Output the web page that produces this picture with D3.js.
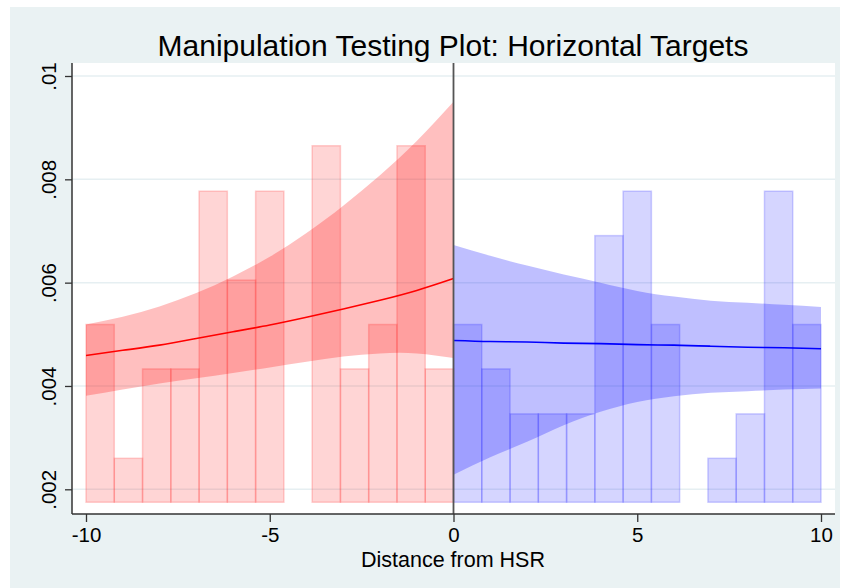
<!DOCTYPE html>
<html>
<head>
<meta charset="utf-8">
<script src="https://cdn.jsdelivr.net/npm/d3@7"></script>
<style>
  html, body { margin: 0; padding: 0; background: #ffffff; }
  svg { display: block; }
  text { font-family: "Liberation Sans", Arial, sans-serif; fill: #000; }
</style>
</head>
<body>
<svg id="chart" width="844" height="588"></svg>
<script>
// ---------- DATA ----------
const title = "Manipulation Testing Plot: Horizontal Targets";
const xTitle = "Distance from HSR";
const xTicks = [-10, -5, 0, 5, 10];
const yTicks = [0.002, 0.004, 0.006, 0.008, 0.01];
const yTickLabels = [".002", ".004", ".006", ".008", ".01"];

const binWidth = 10 / 13;
const barBase = 0.00175;
// histogram densities, left of cutoff (bins starting at -10)
const leftBars = [0.00519, 0.00260, 0.00433, 0.00433, 0.00777, 0.00605, 0.00777, null, 0.00865, 0.00433, 0.00519, 0.00865, 0.00433];
// histogram densities, right of cutoff (bins starting at 0)
const rightBars = [0.00519, 0.00433, 0.00346, 0.00346, 0.00346, 0.00691, 0.00777, 0.00519, null, 0.00260, 0.00346, 0.00777, 0.00519];

const leftX = [-10, -9, -8, -7, -6, -5, -4, -3, -2, -1, 0];
const leftFit = [0.00459, 0.00469, 0.00479, 0.00492, 0.00505, 0.00518, 0.00533, 0.00549, 0.00566, 0.00585, 0.00608];
const leftUpper = [0.00519, 0.00534, 0.00554, 0.00580, 0.00612, 0.00650, 0.00696, 0.00749, 0.00808, 0.00874, 0.00950];
const leftLower = [0.00381, 0.00393, 0.00405, 0.00415, 0.00425, 0.00436, 0.00447, 0.00457, 0.00463, 0.00463, 0.00454];

const rightX = [0, 1, 2, 3, 4, 5, 6, 7, 8, 9, 10];
const rightFit = [0.00488, 0.00486, 0.00485, 0.00483, 0.00482, 0.00480, 0.00479, 0.00477, 0.00475, 0.00474, 0.00472];
const rightUpper = [0.00673, 0.00652, 0.00633, 0.00616, 0.00600, 0.00584, 0.00573, 0.00565, 0.00561, 0.00557, 0.00553];
const rightLower = [0.00228, 0.00262, 0.00292, 0.00324, 0.00350, 0.00369, 0.00380, 0.00387, 0.00390, 0.00393, 0.00395];

// ---------- LAYOUT ----------
const svg = d3.select("#chart");
const plot = { left: 72, right: 835, top: 63, bottom: 514 };

svg.append("rect").attr("x", 10).attr("y", 7).attr("width", 830).attr("height", 581)
  .attr("fill", "#eaf2f3");
svg.append("rect").attr("x", plot.left).attr("y", plot.top)
  .attr("width", plot.right - plot.left).attr("height", plot.bottom - plot.top)
  .attr("fill", "#ffffff");

const x = d3.scaleLinear().domain([-10, 10]).range([86, 821]);
const y = d3.scaleLinear().domain([0.002, 0.01]).range([489.3, 76]);

// gridlines
svg.append("g").selectAll("line").data(yTicks).join("line")
  .attr("x1", plot.left).attr("x2", plot.right)
  .attr("y1", d => y(d)).attr("y2", d => y(d))
  .attr("stroke", "#e6eff2").attr("stroke-width", 1.5);

// bars
function drawBars(vals, start, fill, stroke) {
  const data = vals.map((v, i) => ({ x0: start + i * binWidth, x1: start + (i + 1) * binWidth, v }))
    .filter(d => d.v !== null);
  svg.append("g").selectAll("rect").data(data).join("rect")
    .attr("x", d => x(d.x0)).attr("width", d => x(d.x1) - x(d.x0))
    .attr("y", d => y(d.v)).attr("height", d => y(barBase) - y(d.v))
    .attr("fill", fill).attr("stroke", stroke).attr("stroke-width", 1.5);
}
drawBars(leftBars, -10, "rgba(255,0,0,0.165)", "rgba(255,60,60,0.24)");
drawBars(rightBars, 0, "rgba(0,0,255,0.165)", "rgba(60,60,255,0.24)");

// bands
function drawBand(xs, lo, hi, fill) {
  const pts = xs.map((d, i) => ({ x: d, lo: lo[i], hi: hi[i] }));
  const area = d3.area().x(d => x(d.x)).y0(d => y(d.lo)).y1(d => y(d.hi)).curve(d3.curveNatural);
  svg.append("path").datum(pts).attr("d", area).attr("fill", fill);
}
drawBand(leftX, leftLower, leftUpper, "rgba(255,0,0,0.25)");
drawBand(rightX, rightLower, rightUpper, "rgba(0,0,255,0.25)");

// fitted lines
function drawLine(xs, ys, color) {
  const pts = xs.map((d, i) => ({ x: d, y: ys[i] }));
  const line = d3.line().x(d => x(d.x)).y(d => y(d.y)).curve(d3.curveNatural);
  svg.append("path").datum(pts).attr("d", line).attr("fill", "none")
    .attr("stroke", color).attr("stroke-width", 1.6);
}
drawLine(leftX, leftFit, "#ff0000");
drawLine(rightX, rightFit, "#0000ff");

// cutoff line
svg.append("line").attr("x1", x(0)).attr("x2", x(0)).attr("y1", plot.top).attr("y2", plot.bottom)
  .attr("stroke", "#555555").attr("stroke-width", 1.8);

// axes
const xAxis = svg.append("g").attr("transform", `translate(0,${plot.bottom})`)
  .call(d3.axisBottom(x).tickValues(xTicks).tickSize(8).tickPadding(5).tickFormat(d3.format("d")));
xAxis.select(".domain").attr("d", `M${plot.left},0H${plot.right}`).attr("stroke", "#333").attr("stroke-width", 1.5);
xAxis.selectAll(".tick line").attr("stroke", "#333").attr("stroke-width", 1.3);
xAxis.selectAll(".tick text").attr("font-size", 20.5).attr("font-family", "Liberation Sans, Arial, sans-serif")
  .attr("fill", "#000").text(d => d < 0 ? "-" + Math.abs(d) : d);

const yAxis = svg.append("g").attr("transform", `translate(${plot.left},0)`)
  .call(d3.axisLeft(y).tickValues(yTicks).tickSize(7).tickFormat((d, i) => yTickLabels[i]));
yAxis.select(".domain").attr("d", `M0,${plot.top}V${plot.bottom}`).attr("stroke", "#333").attr("stroke-width", 1.5);
yAxis.selectAll(".tick line").attr("stroke", "#333").attr("stroke-width", 1.3);
yAxis.selectAll(".tick text")
  .attr("font-size", 20.5).attr("font-family", "Liberation Sans, Arial, sans-serif").attr("fill", "#000")
  .attr("x", null).attr("dy", null)
  .attr("text-anchor", "middle")
  .attr("transform", "translate(-16,0) rotate(-90)");

// titles
svg.append("text").attr("x", 453).attr("y", 56).attr("text-anchor", "middle")
  .attr("font-size", 30).text(title);
svg.append("text").attr("x", 453).attr("y", 567).attr("text-anchor", "middle")
  .attr("font-size", 21.5).text(xTitle);
</script>
</body>
</html>
